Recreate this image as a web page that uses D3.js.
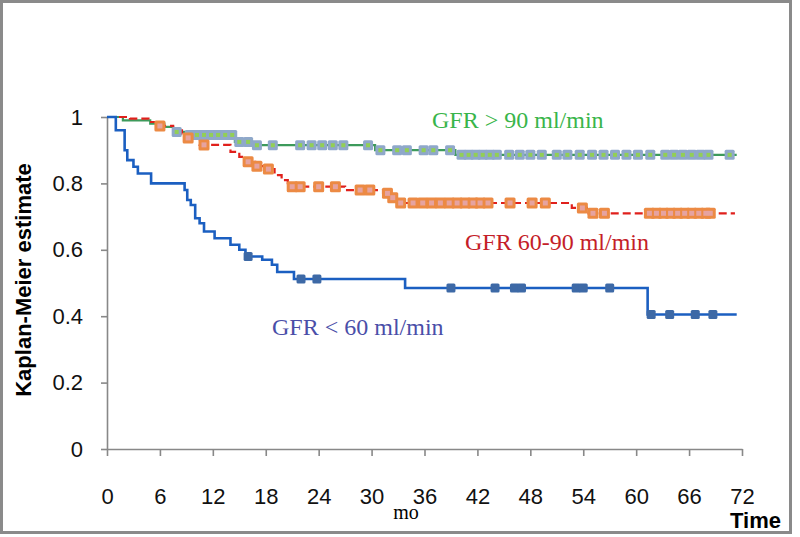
<!DOCTYPE html>
<html>
<head>
<meta charset="utf-8">
<script src="https://cdnjs.cloudflare.com/ajax/libs/d3/7.8.5/d3.min.js"></script>
<style>
  body { margin: 0; background: #fff; }
  svg { display: block; }
</style>
</head>
<body>
<script>
// step points [time (mo), survival] for each group
var lowSteps = [[0,1],[1.0,0.96],[2.0,0.90],[2.3,0.87],[3.0,0.85],[3.5,0.83],[5.0,0.80],
  [8.8,0.78],[9.1,0.75],[9.5,0.735],[10.0,0.695],[10.5,0.68],[11.0,0.655],[12.2,0.635],
  [14.0,0.615],[15.0,0.60],[15.7,0.58],[17.6,0.57],[18.7,0.555],[19.3,0.533],[21.2,0.512],
  [33.8,0.485],[61.3,0.405],[71.4,0.405]];
var lowCensor = [16, 22, 23.8, 39, 44, 46.2, 47, 53.2, 54, 57, 61.7, 63.8, 66.7, 68.7];

var midSteps = [[0,1],[2.6,0.995],[4.7,0.985],[5.8,0.973],[7.5,0.96],[8.5,0.95],[9.0,0.937],
  [10.5,0.916],[14.0,0.895],[15.0,0.88],[15.8,0.865],[16.8,0.852],[18.0,0.843],[19.0,0.825],
  [19.8,0.81],[20.5,0.79],[27.0,0.78],[31.3,0.77],[32.1,0.757],[33.0,0.741],[52.7,0.726],
  [54.6,0.71],[71.2,0.71]];
var midCensor = [6, 9.2, 11, 16, 17, 18.3, 21, 21.9, 24, 25.9, 28.7, 29.8, 31.8, 32.4,
  33.3, 34.7, 35.8, 36.8, 37.8, 38.8, 39.7, 40.6, 41.5, 42.3, 43.2, 45.7, 48.2, 49.7,
  53.9, 55.1, 56.4, 61.5, 62.3, 63.1, 63.9, 64.7, 65.5, 66.3, 67.1, 67.9, 68.4];

var highSteps = [[0,1],[1.8,0.99],[4.9,0.98],[6.5,0.97],[7.5,0.955],[9.0,0.946],
  [14.5,0.925],[16.5,0.915],[30.4,0.90],[39.5,0.886],[71.4,0.886]];
var highCensor = [7.9, 9.4, 10.2, 11.0, 11.8, 12.6, 13.4, 14.2, 15.0, 16.0, 17.0, 18.8,
  21.9, 23.2, 24.4, 25.6, 26.8, 29.6, 31, 32.9, 34, 35.9, 37, 38.9, 40.2, 41, 41.8, 42.6,
  43.4, 44.2, 45.6, 46.8, 48, 49.3, 51, 52.2, 53.6, 55, 56.3, 57.6, 58.9, 60.2, 61.6,
  63.3, 64.3, 65.3, 66.3, 67.3, 68.2, 70.6];

var xTicks = [0, 6, 12, 18, 24, 30, 36, 42, 48, 54, 60, 66, 72];
var yTicks = [0, 0.2, 0.4, 0.6, 0.8, 1];

var W = 800, H = 537;
var svg = d3.select("body").append("svg")
    .attr("width", W)
    .attr("height", H);

// frame
svg.append("rect")
    .attr("x", 1.5).attr("y", 1.5)
    .attr("width", 789).attr("height", 531)
    .attr("fill", "none")
    .attr("stroke", "#8a8a8a")
    .attr("stroke-width", 3);

var x = d3.scaleLinear().domain([0, 72]).range([107, 742]);
var y = d3.scaleLinear().domain([0, 1]).range([449, 117]);

// y axis
var yAxis = svg.append("g")
    .attr("transform", "translate(" + x(0) + ",0)")
    .call(d3.axisLeft(y).tickValues(yTicks).tickSize(6).tickSizeOuter(0).tickPadding(18)
      .tickFormat(function(d) { return d === 0 || d === 1 ? d : d.toFixed(1); }));

// x axis
var xAxis = svg.append("g")
    .attr("transform", "translate(0," + y(0) + ")")
    .call(d3.axisBottom(x).tickValues(xTicks).tickSize(7).tickSizeOuter(0).tickPadding(32));

[yAxis, xAxis].forEach(function(g) {
  g.select(".domain").attr("stroke", "#888").attr("stroke-width", 1.6);
  g.selectAll(".tick line").attr("stroke", "#888").attr("stroke-width", 1.6);
  g.selectAll(".tick text")
    .attr("fill", "#111")
    .style("font-family", "Liberation Sans, Arial, sans-serif")
    .style("font-size", "22px");
});

function survAt(steps, t) {
  var s = steps[0][1];
  steps.forEach(function(p) { if (p[0] <= t) s = p[1]; });
  return s;
}

var line = d3.line()
    .x(function(d) { return x(d[0]); })
    .y(function(d) { return y(d[1]); })
    .curve(d3.curveStepAfter);

svg.append("path").datum(highSteps)
    .attr("d", line).attr("fill", "none")
    .attr("stroke", "#3d9a5b").attr("stroke-width", 2.2);

svg.append("path").datum(midSteps)
    .attr("d", line).attr("fill", "none")
    .attr("stroke", "#e0201c").attr("stroke-width", 2.2)
    .attr("stroke-dasharray", "8,4");

svg.append("path").datum(lowSteps)
    .attr("d", line).attr("fill", "none")
    .attr("stroke", "#1b5fc1").attr("stroke-width", 2.6);

// censor marks
function marks(steps, times, outer, inner, sz, isz) {
  var g = svg.append("g");
  g.selectAll("rect.o").data(times).enter().append("rect")
    .attr("class", "o")
    .attr("x", function(d) { return x(d) - sz / 2; })
    .attr("y", function(d) { return y(survAt(steps, d)) - sz / 2; })
    .attr("width", sz).attr("height", sz).attr("rx", 1.5)
    .attr("fill", outer);
  if (inner) {
    g.selectAll("rect.i").data(times).enter().append("rect")
      .attr("class", "i")
      .attr("x", function(d) { return x(d) - isz / 2; })
      .attr("y", function(d) { return y(survAt(steps, d)) - isz / 2; })
      .attr("width", isz).attr("height", isz)
      .attr("fill", inner);
  }
}
marks(highSteps, highCensor, "#8fa8ca", "#92cf55", 10, 4);
marks(midSteps, midCensor, "#ec8a44", "#e6a3a0", 11, 5);
marks(lowSteps, lowCensor, "#3d69a6", null, 9, 0);

// group labels
var serif = "Liberation Serif, Times New Roman, serif";
svg.append("text").attr("x", 432).attr("y", 128)
    .style("font-family", serif).style("font-size", "24px")
    .attr("fill", "#39b54a").text("GFR > 90 ml/min");
svg.append("text").attr("x", 465).attr("y", 250)
    .style("font-family", serif).style("font-size", "24px")
    .attr("fill", "#c42027").text("GFR 60-90 ml/min");
svg.append("text").attr("x", 272).attr("y", 335)
    .style("font-family", serif).style("font-size", "24px")
    .attr("fill", "#4a4ea8").text("GFR < 60 ml/min");

// axis titles
svg.append("text")
    .attr("transform", "translate(31,280) rotate(-90)")
    .attr("text-anchor", "middle")
    .style("font-family", "Liberation Sans, Arial, sans-serif")
    .style("font-size", "22px").style("font-weight", "bold")
    .text("Kaplan-Meier estimate");

svg.append("text").attr("x", 406).attr("y", 519)
    .attr("text-anchor", "middle")
    .style("font-family", serif).style("font-size", "20px")
    .text("mo");

svg.append("text").attr("x", 781).attr("y", 528)
    .attr("text-anchor", "end")
    .style("font-family", "Liberation Sans, Arial, sans-serif")
    .style("font-size", "22px").style("font-weight", "bold")
    .text("Time");
</script>
</body>
</html>
